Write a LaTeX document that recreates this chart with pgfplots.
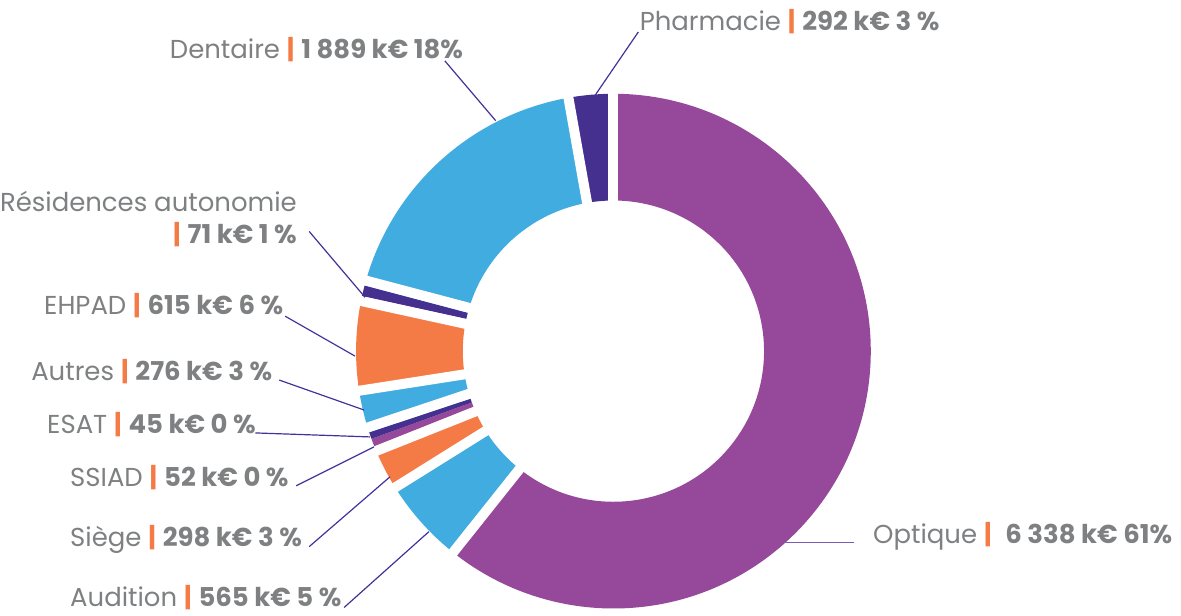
\documentclass[border=0pt]{standalone}
\usepackage{pgfplots}
\pgfplotsset{compat=1.18}
\usepackage{pgfplotstable}
\usepackage{fontspec}
\setmainfont{Poppins}
\definecolor{optique}{HTML}{96499B}
\definecolor{bleu}{HTML}{41ACE0}
\definecolor{orangec}{HTML}{F47B45}
\definecolor{violet}{HTML}{452F8F}
\definecolor{txt}{HTML}{7E8081}
\definecolor{lead}{HTML}{45309A}
\definecolor{leadopt}{HTML}{7A5DB6}

% clockwise from 12 o'clock; gap = white separator before the slice,
% off = sideways offset of that separator (pt) so thin slices stay visible
\pgfplotstableread{
name       value col     gap off
Optique    6338  optique 1   0
Audition   565   bleu    1   0
Siege      298   orangec 1   0
SSIAD      52    optique 1   2.5
ESAT       45    violet  0   0
Autres     276   bleu    1   -2.5
EHPAD      615   orangec 1   0
Residences 71    violet  1   2.5
Dentaire   1889  bleu    1   -2.5
Pharmacie  292   violet  1   0
}\donut

\newcommand{\lab}[2]{#1 {\color{orangec}\bfseries|} \textbf{#2}}

\begin{document}
\begin{tikzpicture}
\begin{axis}[x=0.5pt, y=0.5pt, xmin=0, xmax=1181, ymin=0, ymax=617,
  y dir=reverse, hide axis, clip=false, scale only axis]
\path (axis cs:0,0) rectangle (axis cs:1181,617);
\pgfplotstablegetrowsof{\donut}
\pgfmathtruncatemacro{\nlast}{\pgfplotsretval-1}
\def\total{0}
\pgfplotsforeachungrouped \i in {0,...,\nlast}{%
  \pgfplotstablegetelem{\i}{value}\of\donut
  \pgfmathsetmacro{\total}{\total+\pgfplotsretval}}
% slices
\def\cum{0}
\pgfplotsforeachungrouped \i in {0,...,\nlast}{%
  \pgfplotstablegetelem{\i}{value}\of\donut \let\slv\pgfplotsretval
  \pgfplotstablegetelem{\i}{col}\of\donut \let\slc\pgfplotsretval
  \pgfmathsetmacro{\angA}{90-360*(\cum/\total)}
  \pgfmathsetmacro{\cum}{\cum+\slv}
  \pgfmathsetmacro{\angB}{90-360*(\cum/\total)}
  \edef\temp{\noexpand\fill[\slc, shift={(axis cs:612,352)}] (\angA:129pt)
    arc[start angle=\angA, end angle=\angB, radius=129pt] -- (\angB:75.5pt)
    arc[start angle=\angB, end angle=\angA, radius=75.5pt] -- cycle;}
  \temp}
% white separators
\def\cum{0}
\pgfplotsforeachungrouped \i in {0,...,\nlast}{%
  \pgfplotstablegetelem{\i}{value}\of\donut \let\slv\pgfplotsretval
  \pgfplotstablegetelem{\i}{gap}\of\donut \let\slg\pgfplotsretval
  \pgfplotstablegetelem{\i}{off}\of\donut \let\slo\pgfplotsretval
  \pgfmathsetmacro{\angA}{90-360*(\cum/\total)}
  \pgfmathsetmacro{\angP}{\angA+90}
  \ifnum\slg=1
    \edef\temp{\noexpand\draw[white, line width=5pt, shift={(axis cs:612,352)},
      shift={(\angP:\slo pt)}] (\angA:70pt) -- (\angA:134pt);}
    \temp
  \fi
  \pgfmathsetmacro{\cum}{\cum+\slv}}

% leader lines
\begin{scope}[lead, line width=0.6pt]
\draw (axis cs:637,32) -- (axis cs:594,95);
\draw (axis cs:443,61) -- (axis cs:494,121);
\draw (axis cs:307,232) -- (axis cs:363,298);
\draw (axis cs:283,317) -- (axis cs:353,357);
\draw (axis cs:277,381) -- (axis cs:362,411);
\draw (axis cs:253,434) -- (axis cs:368,438);
\draw (axis cs:294,487) -- (axis cs:372,448);
\draw (axis cs:307,548) -- (axis cs:388,478);
\draw (axis cs:342,609) -- (axis cs:427,533);
\draw[leadopt] (axis cs:783,544) -- (axis cs:853,544);
\end{scope}

% labels
\begin{scope}[every node/.style={inner sep=0pt, text=txt, font=\fontsize{13}{15}\selectfont}]
\node[anchor=base west] at (axis cs:638,31) {\lab{Pharmacie}{292 k€ 3 \%}};
\node[anchor=base west] at (axis cs:167,59) {\lab{Dentaire}{1 889 k€ 18\%}};
\node[anchor=base east] at (axis cs:295,212) {Résidences autonomie};
\node[anchor=base east] at (axis cs:295,244) {{\color{orangec}\bfseries|} \textbf{71 k€ 1 \%}};
\node[anchor=base west] at (axis cs:41,315) {\lab{EHPAD}{615 k€ 6 \%}};
\node[anchor=base west] at (axis cs:28,381) {\lab{Autres}{276 k€ 3 \%}};
\node[anchor=base west] at (axis cs:44,435) {\lab{ESAT}{45 k€ 0 \%}};
\node[anchor=base west] at (axis cs:67,488) {\lab{SSIAD}{52 k€ 0 \%}};
\node[anchor=base west] at (axis cs:67,548) {\lab{Siège}{298 k€ 3 \%}};
\node[anchor=base west] at (axis cs:67,608) {\lab{Audition}{565 k€ 5 \%}};
\node[anchor=base west] at (axis cs:872,545) {Optique {\color{orangec}\bfseries|}\ \ \textbf{6 338 k€ 61\%}};
\end{scope}
\end{axis}
\end{tikzpicture}
\end{document}
